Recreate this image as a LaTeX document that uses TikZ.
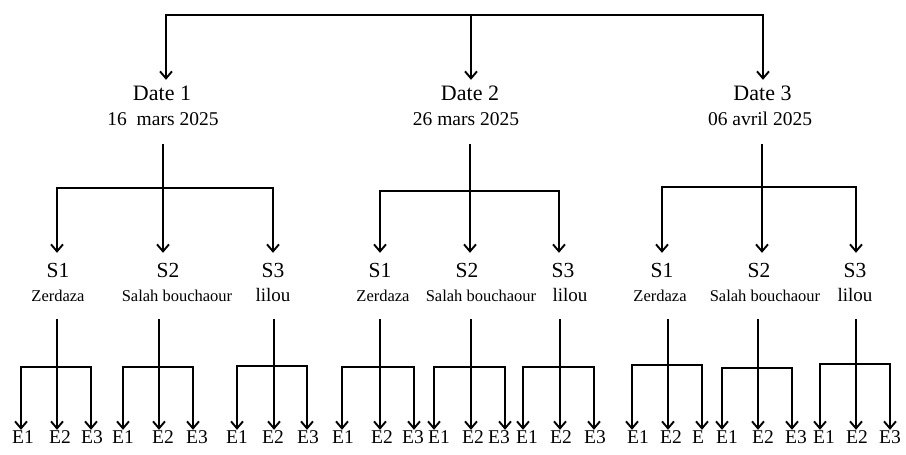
\documentclass[tikz,border=0pt]{standalone}
\usepackage{fontspec}
\setmainfont{Liberation Serif}
\usetikzlibrary{arrows.meta}
\newcommand\lil{{\fontsize{19}{19}\selectfont lilou}}
\begin{document}
\begin{tikzpicture}[x=1pt,y=-1pt,
  ln/.style={line width=1.9pt},
  arr/.style={ln,-{Straight Barb[length=7pt,width=12pt]}},
  dtitle/.style={inner sep=0pt,anchor=base,font=\fontsize{22}{22}\selectfont,text height=20.7pt,text depth=0pt},
  ddate/.style={inner sep=0pt,anchor=base,font=\fontsize{19.5}{19.5}\selectfont,text height=13pt,text depth=18.5pt},
  sl/.style={inner sep=0pt,anchor=base,font=\fontsize{21.5}{21.5}\selectfont,text height=24.7pt,text depth=0pt},
  nm/.style={inner sep=0pt,anchor=base,font=\fontsize{16.5}{16.5}\selectfont,text height=10pt,text depth=17.3pt},
  el/.style={inner sep=0pt,anchor=base,font=\fontsize{19.5}{19.5}\selectfont,text height=13.3pt,text depth=0pt}]
\useasboundingbox (0,0) rectangle (906,455);

% dates
\node[dtitle] (d1) at (162,100.7) {Date 1};
\node[ddate] (dd1) at (163,125.5) {16~ mars 2025};
\node[dtitle] (d2) at (470,100.7) {Date 2};
\node[ddate] (dd2) at (466,125.5) {26 mars 2025};
\node[dtitle] (d3) at (762.5,100.7) {Date 3};
\node[ddate] (dd3) at (760,125.5) {06 avril 2025};

\coordinate (t1) at (166,15);
\coordinate (t2) at (471,15);
\coordinate (t3) at (763,15);
\draw[arr] (t2) -- (t1) -- (t1 |- d1.north);
\draw[arr] (t2) -- (t3) -- (t3 |- d3.north);
\draw[arr] (t2) -- (t2 |- d2.north);

% S groups
\foreach \id/\ax/\dy/\lx/\s/\nx/\nm/\vx/\by/\bl/\br/\ea/\eb/\ec/\lc in {
  11/57/188/58/S1/58/Zerdaza/57/367/21/91/23/60/92/E3,
  12/163/188/168/S2/177/Salah bouchaour/159/367/123/193/123/163/197/E3,
  13/273/188/273/S3/273/\lil/274/366/237/307/237/273/308/E3,
  21/380/191/380/S1/383/Zerdaza/380/367/342/414/343/382/413/E3,
  22/470/191/467/S2/481/Salah bouchaour/471/367/434/505/439/473/499/E3,
  23/559/191/563/S3/570/\lil/560/367/523/594/527/561/595/E3,
  31/662/187/662/S1/660/Zerdaza/668/365/632/702/638/671/698/E,
  32/762/187/759/S2/765/Salah bouchaour/758/368/722/792/727/763/796/E3,
  33/856/187/855/S3/855/\lil/856/364/820/890/824/857/890/E3}{
  \node[sl] (s\id) at (\lx,277.7) {\s};
  \node[nm] (n\id) at (\nx,301.7) {\nm};
  \node[el] (ea\id) at (\ea,443.3) {E1};
  \node[el] (eb\id) at (\eb,443.3) {E2};
  \node[el] (ec\id) at (\ec,443.3) {\lc};
  \coordinate (a\id) at (\ax,\dy);
  \coordinate (v\id) at (\vx,\by);
  \coordinate (l\id) at (\bl,\by);
  \coordinate (r\id) at (\br,\by);
  \draw[ln] (v\id |- n\id.south) -- (v\id);
  \draw[arr] (v\id) -- (l\id) -- (l\id |- ea\id.north);
  \draw[arr] (v\id) -- (r\id) -- (r\id |- ec\id.north);
  \draw[arr] (v\id) -- (v\id |- eb\id.north);
}

% date brackets
\coordinate (j1) at (163,188);
\coordinate (j2) at (470,191);
\coordinate (j3) at (762,187);
\foreach \g in {1,2,3}{
  \draw[ln] (j\g |- dd\g.south) -- (j\g);
  \draw[arr] (j\g) -- (a\g1) -- (a\g1 |- s\g1.north);
  \draw[arr] (j\g) -- (a\g3) -- (a\g3 |- s\g3.north);
  \draw[arr] (j\g) -- (a\g2 |- s\g2.north);
}
\end{tikzpicture}
\end{document}
